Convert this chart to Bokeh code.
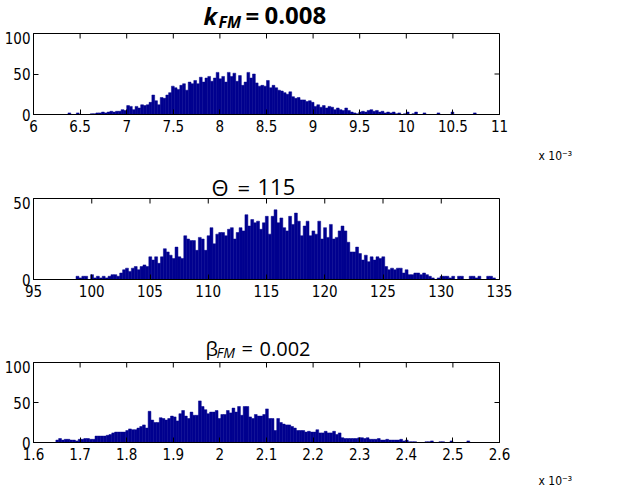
from bokeh.plotting import figure
from bokeh.models import ColumnDataSource, FixedTicker, Label, Range1d, Title
from bokeh.layouts import column
from bokeh.embed import file_html
from bokeh.resources import INLINE

# ---------------- data (histogram counts) ----------------
# k_FM (x 10^-3): first bin edge, bin width, counts
k_lo = 6.37
k_step = 0.03
k_counts = [2, 0, 0, 2, 0, 0, 0, 0, 1, 1,
            2, 2, 3, 2, 3, 4, 3, 4, 4, 6,
            5, 11, 10, 6, 10, 8, 12, 11, 12, 15,
            24, 17, 12, 21, 20, 24, 27, 35, 33, 31,
            36, 38, 30, 40, 38, 42, 38, 46, 40, 45,
            47, 41, 45, 52, 44, 47, 40, 52, 47, 51,
            41, 48, 36, 40, 52, 45, 50, 39, 35, 36,
            35, 42, 33, 36, 33, 30, 29, 27, 25, 28,
            22, 20, 21, 18, 18, 16, 17, 15, 10, 12,
            9, 11, 8, 10, 9, 6, 8, 6, 5, 8,
            5, 3, 2, 1, 3, 4, 3, 5, 6, 4,
            5, 3, 4, 2, 3, 2, 3, 1, 2, 0,
            1, 3, 0, 1, 3, 0, 0, 2, 0, 0,
            0, 0, 2, 0, 0, 0, 0, 3, 0, 0,
            0, 0, 0, 0, 0, 2, 0]
k_xticks = [6, 6.5, 7, 7.5, 8, 8.5, 9, 9.5, 10, 10.5, 11]
k_xlabels = ["6", "6.5", "7", "7.5", "8", "8.5", "9", "9.5", "10", "10.5", "11"]
k_yticks = [0, 50, 100]

# Theta
theta_lo = 98.4
theta_step = 0.25
theta_counts = [0, 2, 1, 2, 2, 0, 3, 1, 2, 1,
                2, 1, 2, 3, 3, 2, 4, 6, 7, 5,
                7, 8, 6, 8, 9, 8, 14, 12, 14, 10,
                14, 19, 17, 15, 13, 20, 14, 13, 27, 25,
                24, 24, 18, 26, 25, 18, 27, 32, 22, 28,
                29, 29, 27, 31, 32, 25, 29, 32, 30, 40,
                33, 37, 35, 36, 31, 35, 39, 28, 39, 43,
                35, 38, 32, 30, 39, 34, 41, 36, 27, 33,
                36, 27, 30, 28, 36, 25, 32, 26, 34, 25,
                26, 30, 33, 30, 23, 17, 17, 20, 16, 12,
                15, 11, 14, 12, 14, 13, 14, 8, 6, 7,
                6, 7, 7, 4, 6, 3, 3, 4, 4, 3,
                4, 3, 2, 1, 0, 1, 2, 2, 2, 1,
                2, 0, 2, 2, 0, 0, 2, 2, 1, 2,
                0, 0, 2, 2, 1]
theta_xticks = [95, 100, 105, 110, 115, 120, 125, 130, 135]
theta_xlabels = ["95", "100", "105", "110", "115", "120", "125", "130", "135"]
theta_yticks = [0, 50]

# beta_FM (x 10^-3)
beta_lo = 1.648
beta_step = 0.006
beta_counts = [3, 5, 3, 4, 4, 3, 3, 2, 4, 4,
               5, 5, 4, 4, 8, 8, 8, 8, 9, 10,
               12, 13, 13, 13, 13, 15, 17, 16, 16, 18,
               20, 22, 18, 39, 28, 25, 25, 31, 30, 28,
               30, 33, 32, 27, 36, 40, 33, 30, 38, 34,
               34, 52, 45, 41, 36, 38, 38, 40, 30, 35,
               35, 40, 37, 43, 38, 45, 34, 45, 45, 32,
               30, 35, 33, 33, 35, 42, 30, 30, 15, 30,
               25, 23, 22, 22, 20, 18, 15, 15, 15, 13,
               14, 13, 13, 16, 12, 12, 14, 12, 12, 14,
               10, 12, 6, 5, 5, 5, 5, 5, 6, 6,
               5, 6, 4, 4, 4, 5, 3, 3, 4, 3,
               3, 3, 3, 4, 2, 3, 1, 1, 1, 0,
               0, 0, 1, 1, 2, 0, 0, 1, 1, 0,
               0, 2, 0, 0, 0, 0, 0, 2, 0]
beta_xticks = [1.6, 1.7, 1.8, 1.9, 2.0, 2.1, 2.2, 2.3, 2.4, 2.5, 2.6]
beta_xlabels = ["1.6", "1.7", "1.8", "1.9", "2", "2.1", "2.2", "2.3", "2.4", "2.5", "2.6"]
beta_yticks = [0, 50, 100]

exponent_text = "x 10\u207b\u00b3"

# ---------------- styling ----------------
TICK_FONT = "Liberation Sans Narrow, Arial Narrow, DejaVu Sans Condensed, sans-serif"
TITLE_FONT = "Open Sans"
BAR = "#00008F"
FIG_W = 625
LEFT_B = 33
FRAME_W = 466
RIGHT_B = FIG_W - LEFT_B - FRAME_W
TICK_LEN = 5


def make_hist(lo, step, counts, xr, xticks, xlabels, ymax, yticks, frame_h, bottom_b,
              exponent=None, exp_standoff=14):
    left = [lo + step * i for i in range(len(counts))]
    right = [lo + step * (i + 1) for i in range(len(counts))]
    src = ColumnDataSource(dict(left=left, right=right, top=counts,
                                bottom=[0] * len(counts)))
    top_b = 2
    p = figure(width=FIG_W, height=top_b + frame_h + bottom_b, title=None,
               x_range=Range1d(xr[0], xr[1]), y_range=Range1d(0, ymax),
               output_backend="svg", toolbar_location=None,
               min_border_left=LEFT_B, min_border_right=RIGHT_B,
               min_border_top=top_b, min_border_bottom=bottom_b,
               background_fill_color="white", border_fill_color="white")
    p.quad(left="left", right="right", top="top", bottom="bottom", source=src,
           fill_color=BAR, line_color=BAR, line_width=0.5)
    # inward tick marks on the top and right edges (MATLAB box style)
    ty = ymax * TICK_LEN / frame_h
    p.segment(x0=xticks, y0=[ymax] * len(xticks), x1=xticks,
              y1=[ymax - ty] * len(xticks), line_color="black", line_width=1)
    tx = (xr[1] - xr[0]) * TICK_LEN / FRAME_W
    p.segment(x0=[xr[1]] * len(yticks), y0=yticks, x1=[xr[1] - tx] * len(yticks),
              y1=yticks, line_color="black", line_width=1)
    p.grid.visible = False
    p.outline_line_color = "black"
    p.outline_line_width = 1
    p.xaxis.ticker = FixedTicker(ticks=xticks)
    p.xaxis.major_label_overrides = {x: lab for x, lab in zip(xticks, xlabels)}
    p.yaxis.ticker = FixedTicker(ticks=yticks)
    for ax in p.axis:
        ax.axis_line_color = "black"
        ax.major_tick_line_color = "black"
        ax.major_tick_in = TICK_LEN
        ax.major_tick_out = 0
        ax.minor_tick_line_color = None
        ax.major_label_text_font = TICK_FONT
        ax.major_label_text_font_size = "15px"
        ax.major_label_text_color = "black"
    p.xaxis.major_label_standoff = 5
    p.yaxis.major_label_standoff = 3
    if exponent is not None:
        p.add_layout(Title(text=exponent, align="left", offset=505,
                           standoff=exp_standoff, text_font=TICK_FONT,
                           text_font_size="12px", text_font_style="normal",
                           text_color="black"), "below")
    return p


def text_fig(h):
    t = figure(width=FIG_W, height=h, title=None,
               x_range=Range1d(LEFT_B, LEFT_B + FRAME_W), y_range=Range1d(0, h),
               output_backend="svg", toolbar_location=None, min_border=0,
               x_axis_type=None, y_axis_type=None, outline_line_color=None,
               background_fill_color="white", border_fill_color="white")
    t.grid.visible = False
    return t


def add_text(t, x, y, text, size, style="normal", font=TITLE_FONT):
    t.add_layout(Label(x=x - 2, y=y, text=text, text_font=font, text_font_size=size,
                       text_font_style=style, text_align="left",
                       text_baseline="alphabetic", text_color="black"))


# title 1 strip
t1 = text_fig(31)
add_text(t1, 205, 16, "k", "24px", "bold italic")
add_text(t1, 220, 10, "FM", "16px", "bold italic")
add_text(t1, 247, 16, "=", "24px", "bold")
add_text(t1, 266, 16, "0.008", "24px", "bold")

p1 = make_hist(k_lo, k_step, k_counts, (6, 11), k_xticks, k_xlabels, 100, k_yticks,
               81, 60, exponent=exponent_text, exp_standoff=24)

# title 2 strip
t2 = text_fig(22)
add_text(t2, 213, 10, "\u0398", "22px")
add_text(t2, 239, 10, "=", "22px")
add_text(t2, 259, 10, "115", "22px")

p2 = make_hist(theta_lo, theta_step, theta_counts, (95, 135), theta_xticks, theta_xlabels,
               50, theta_yticks, 81, 26)

# title 3 strip
t3 = text_fig(55)
add_text(t3, 207, 12, "\u03b2", "20px")
add_text(t3, 218, 8, "FM", "14px", "italic")
add_text(t3, 243, 12, "=", "20px")
add_text(t3, 261, 12, "0.002", "20px")

p3 = make_hist(beta_lo, beta_step, beta_counts, (1.6, 2.6), beta_xticks, beta_xlabels,
               100, beta_yticks, 80, 54, exponent=exponent_text, exp_standoff=18)

layout = column(t1, p1, t2, p2, t3, p3, spacing=0)
open("out.html", "w").write(file_html(layout, INLINE))
